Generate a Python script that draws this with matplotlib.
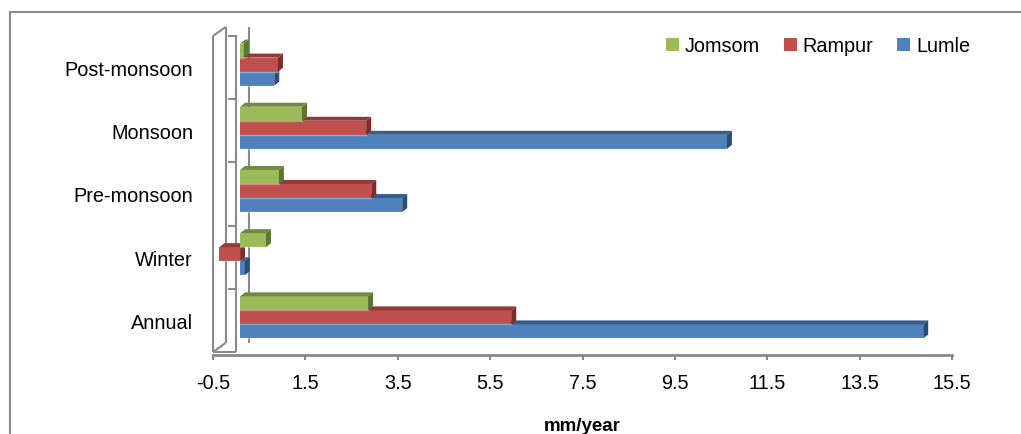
import matplotlib.pyplot as plt
from matplotlib.patches import Polygon, Rectangle
import numpy as np

# Trend values (mm/year)
seasons = ['Annual', 'Winter', 'Pre-monsoon', 'Monsoon', 'Post-monsoon']
lumle = [14.79, 0.10, 3.51, 10.54, 0.74]
rampur = [5.87, -0.45, 2.84, 2.73, 0.82]
jomsom = [2.77, 0.56, 0.84, 1.34, 0.08]
xticks = [-0.5, 1.5, 3.5, 5.5, 7.5, 9.5, 11.5, 13.5, 15.5]

# name, values, front colour, top colour, side colour (bottom bar first)
series = [
    ('Lumle', lumle, '#4F81BD', '#385D8A', '#2C4C74'),
    ('Rampur', rampur, '#C0504D', '#8E3B39', '#772F2D'),
    ('Jomsom', jomsom, '#9BBB59', '#718A41', '#5E7436'),
]

plt.rcParams['font.family'] = ['Liberation Sans', 'DejaVu Sans']
plt.rcParams['font.size'] = 14.3
grey = '#8A8A8A'

W, H = 1021, 435
fig = plt.figure(figsize=(W / 100, H / 100), dpi=100)
# axes = front plane of the 3D box: x -0.5..15.5, wall from y=37 to y=353 px
ax = fig.add_axes([213 / W, 1 - 353 / H, 739 / W, 316 / H])
ax.set_xlim(-0.5, 15.5)
ax.set_ylim(-0.5, 4.5)

# data units per pixel
kx = 16.0 / 739
ky = 5.0 / 316

# chart area border
fig.add_artist(Rectangle((10 / W, -0.1), 1.2, 1 - 13 / H + 0.1, transform=fig.transFigure,
                         fill=False, edgecolor=grey, lw=1.5))

# bars with a fake 3D top and side face
h = 2 / 9
ox, oy = 4 * kx, 3 * ky      # bars sit a little behind the front plane
dx, dy = 5 * kx, 4 * ky      # bar depth
z = 3
for ci in range(len(seasons)):
    for si, (name, vals, fc, tc, sc) in enumerate(series):
        v = vals[ci]
        yc = ci + (si - 1) * h + oy
        ax.barh(yc, v, height=h, left=ox, color=fc, zorder=z,
                label=name if ci == 0 else None)
        x0 = min(0, v) + ox
        x1 = max(0, v) + ox
        yt = yc + h / 2
        yb = yc - h / 2
        ax.add_patch(Polygon([(x0, yt), (x1, yt), (x1 + dx, yt + dy), (x0 + dx, yt + dy)],
                             closed=True, facecolor=tc, edgecolor='none', zorder=z))
        ax.add_patch(Polygon([(x1, yb), (x1, yt), (x1 + dx, yt + dy), (x1 + dx, yb + dy)],
                             closed=True, facecolor=sc, edgecolor='none', zorder=z))
        # light lower edge of the front face
        ax.plot([x0, x1], [yb, yb], color='white', alpha=0.35, lw=1, zorder=z + 0.01)
        z += 0.1

# left wall drawn as a thin slab
wx, wy = 12.5 * kx, 9 * ky
lo, hi = -0.5, 4.5
wall = [
    ([-0.5, -0.5], [lo, hi]),
    ([-0.5, -0.5 + wx], [hi, hi + wy]),
    ([-0.5 + wx, -0.5 + wx], [lo + wy, hi + wy]),
    ([-0.5, -0.5 + wx], [lo, lo + wy]),
    ([0, 0], [lo, hi]),
    ([wx, wx], [lo + wy, hi + wy]),
    ([-0.5, 0], [lo, lo]),
]
for xs, ys in wall:
    ax.plot(xs, ys, color=grey, lw=1.5, clip_on=False, zorder=1, solid_capstyle='butt')
for b in np.arange(0.5, 5, 1.0):
    ax.plot([-7 * kx, 0], [b, b], color=grey, lw=1.5, clip_on=False, zorder=1)

for s in ['top', 'right', 'left']:
    ax.spines[s].set_visible(False)
ax.spines['bottom'].set_position(('outward', 2.2))
ax.spines['bottom'].set_color(grey)
ax.spines['bottom'].set_linewidth(2)
ax.set_xticks(xticks)
ax.set_xticklabels(['%.1f' % t for t in xticks])
ax.tick_params(axis='x', direction='out', length=3.6, width=1.5, color=grey, pad=9.5)
ax.set_yticks(range(len(seasons)))
ax.set_yticklabels(seasons)
ax.tick_params(axis='y', length=0, pad=14.4)
ax.set_xlabel('mm/year', fontweight='bold', fontsize=13.5, labelpad=18)

handles, labels = ax.get_legend_handles_labels()
order = [2, 1, 0]
ax.legend([handles[i] for i in order], [labels[i] for i in order], ncol=3,
          loc='center right', bbox_to_anchor=(980 / W, 1 - 47 / H),
          bbox_transform=fig.transFigure, frameon=False, borderpad=0,
          handlelength=0.65, handleheight=0.65, handletextpad=0.3,
          columnspacing=1.2)

fig.savefig('out.png', dpi=100)
